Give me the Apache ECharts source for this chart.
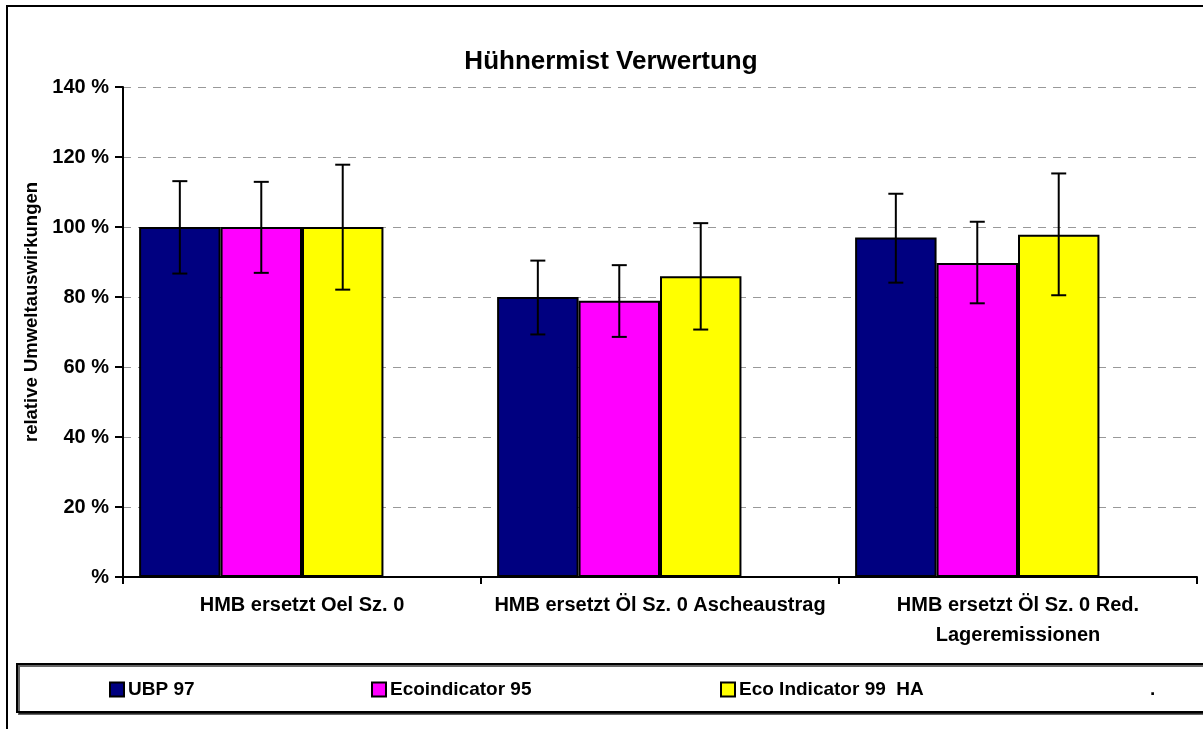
<!DOCTYPE html>
<html>
<head>
<meta charset="utf-8">
<script src="https://cdn.jsdelivr.net/npm/echarts@6/dist/echarts.min.js"></script>
<style>
  html, body { margin: 0; padding: 0; background: #fff; }
  #chart { width: 1203px; height: 729px; }
</style>
</head>
<body>
<div id="chart"></div>
<script>
// Kategorien und Werte (relative Umweltauswirkungen in %)
const categories = [
  'HMB ersetzt Oel Sz. 0',
  'HMB ersetzt Öl Sz. 0 Ascheaustrag',
  'HMB ersetzt Öl Sz. 0 Red.\nLageremissionen'
]
const seriesNames = ['UBP 97', 'Ecoindicator 95', 'Eco Indicator 99  HA', '.']

const ubp97 = [100, 80, 97]
const eco95 = [100, 78.9, 89.7]
const eco99 = [100, 85.9, 97.8]
const dotSeries = ['-', '-', '-']

// Fehlerbalken: untere / obere Grenze
const ubp97Low = [86.7, 69.3, 84.1]
const ubp97High = [113.1, 90.4, 109.5]
const eco95Low = [86.9, 68.6, 78.2]
const eco95High = [112.9, 89.1, 101.5]
const eco99Low = [82.1, 70.7, 80.5]
const eco99High = [117.8, 101.1, 115.3]

const yTicks = { min: 0, max: 140, interval: 20 }

const colors = ['#000080', '#ff00ff', '#ffff00', 'transparent']
const font = '"Liberation Sans", Arial, sans-serif'
const catGap = 0.09
const barCount = 4

const errorSeries = (k, low, high) => ({
  type: 'custom',
  name: seriesNames[k] + ' err',
  z: 5,
  silent: true,
  data: low.map((lo, i) => [i, lo, high[i]]),
  renderItem: (params, api) => {
    const cat = api.value(0)
    const lo = api.coord([cat, api.value(1)])
    const hi = api.coord([cat, api.value(2)])
    const bw = api.size([1, 0])[0] * (1 - catGap) / barCount
    const x = lo[0] + (k - (barCount - 1) / 2) * bw
    const cap = 7.5
    const style = { stroke: '#000', lineWidth: 2 }
    return {
      type: 'group',
      children: [
        { type: 'line', shape: { x1: x, y1: hi[1], x2: x, y2: lo[1] }, style },
        { type: 'line', shape: { x1: x - cap, y1: hi[1], x2: x + cap, y2: hi[1] }, style },
        { type: 'line', shape: { x1: x - cap, y1: lo[1], x2: x + cap, y2: lo[1] }, style }
      ]
    }
  }
})

const barSeries = (k, data) => ({
  type: 'bar',
  name: seriesNames[k],
  data: data,
  barGap: '0%',
  barCategoryGap: (catGap * 100) + '%',
  itemStyle: { color: colors[k], borderColor: '#000', borderWidth: 2 }
})

const legendItem = (k, left) => ({
  data: [k === 3
    ? { name: seriesNames[k], icon: 'rect', itemStyle: { opacity: 0 } }
    : { name: seriesNames[k], icon: 'rect' }],
  left: left,
  top: 680,
  padding: 0,
  itemWidth: 14,
  itemHeight: 14,
  itemGap: 0,
  selectedMode: false,
  itemStyle: { borderColor: '#000', borderWidth: 2 },
  textStyle: { fontFamily: font, fontWeight: 'bold', fontSize: 19, color: '#000', padding: [0, 0, 0, -1] }
})

const chart = echarts.init(document.getElementById('chart'))
chart.setOption({
  animation: false,
  backgroundColor: '#fff',
  title: {
    text: 'Hühnermist Verwertung',
    left: 606,
    textAlign: 'center',
    top: 44,
    textStyle: { fontFamily: font, fontWeight: 'bold', fontSize: 26, color: '#000' }
  },
  graphic: [
    {
      type: 'rect', silent: true, z: -1,
      shape: { x: 7, y: 6, width: 1260, height: 800 },
      style: { fill: 'none', stroke: '#000', lineWidth: 2 }
    },
    {
      type: 'rect', silent: true,
      shape: { x: 17, y: 664, width: 1260, height: 48 },
      style: { fill: '#fff', stroke: '#000', lineWidth: 2, shadowColor: 'rgba(0,0,0,0.6)', shadowOffsetY: 2, shadowOffsetX: 2 }
    }
  ],
  legend: [
    legendItem(0, 109),
    legendItem(1, 371),
    legendItem(2, 720),
    legendItem(3, 1131)
  ],
  grid: { left: 123, right: 6, top: 87, bottom: 152 },
  xAxis: {
    type: 'category',
    data: categories,
    axisLine: { lineStyle: { color: '#000', width: 2 } },
    axisTick: { show: true, length: 7, lineStyle: { color: '#000', width: 2 } },
    axisLabel: {
      interval: 0,
      margin: 13,
      fontFamily: font,
      fontWeight: 'bold',
      fontSize: 20,
      lineHeight: 30,
      color: '#000'
    }
  },
  yAxis: {
    type: 'value',
    min: yTicks.min,
    max: yTicks.max,
    interval: yTicks.interval,
    name: 'relative Umweltauswirkungen',
    nameLocation: 'middle',
    nameGap: 79,
    nameTextStyle: { fontFamily: font, fontWeight: 'bold', fontSize: 18.5, color: '#000', padding: [0, 0, 0, 40] },
    axisLine: { show: true, lineStyle: { color: '#000', width: 2 } },
    axisTick: { show: true, length: 8, lineStyle: { color: '#000', width: 2 } },
    axisLabel: {
      margin: 14,
      fontFamily: font,
      fontWeight: 'bold',
      fontSize: 20,
      color: '#000',
      formatter: (v) => (v === 0 ? '%' : v + ' %')
    },
    splitLine: { lineStyle: { color: '#999', width: 1, type: [8, 7] } }
  },
  series: [
    barSeries(0, ubp97),
    barSeries(1, eco95),
    barSeries(2, eco99),
    barSeries(3, dotSeries),
    errorSeries(0, ubp97Low, ubp97High),
    errorSeries(1, eco95Low, eco95High),
    errorSeries(2, eco99Low, eco99High)
  ]
})
</script>
</body>
</html>
